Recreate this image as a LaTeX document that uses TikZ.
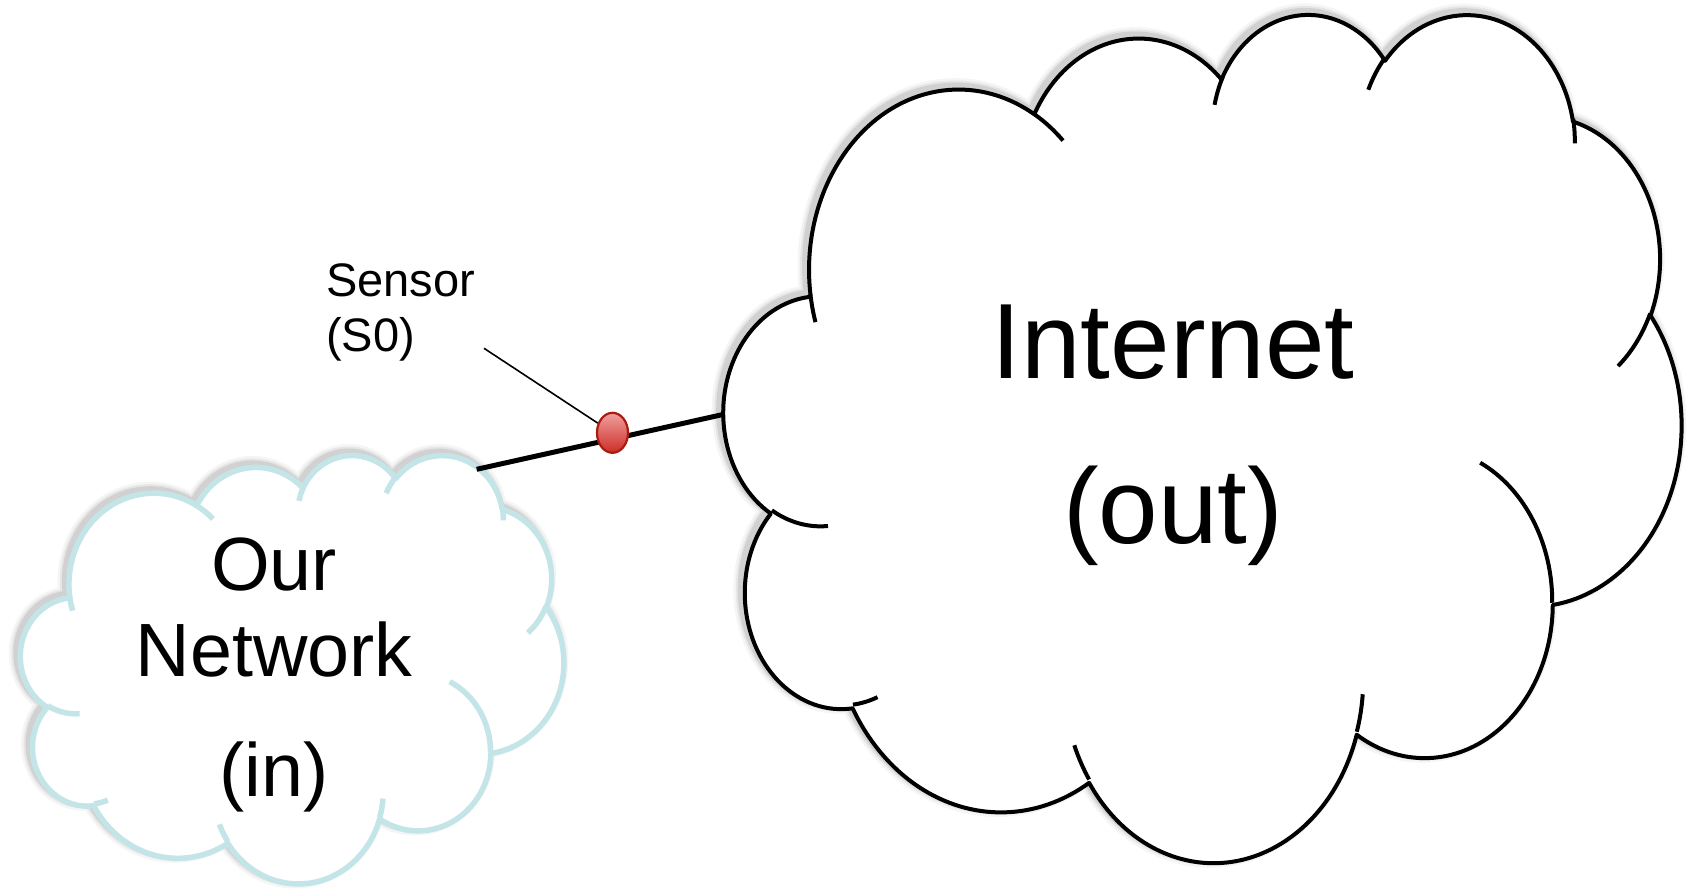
\documentclass[tikz,border=0pt]{standalone}
\usepackage{fontspec}
\setmainfont{Liberation Sans}
\usetikzlibrary{shapes.geometric}
\definecolor{netblue}{RGB}{196,229,232}
\definecolor{sensdark}{RGB}{170,28,18}
\definecolor{senstop}{RGB}{240,160,158}
\definecolor{sensbot}{RGB}{205,45,40}
\tikzset{
  ooarc/.style n args={4}{insert path={arc[x radius=#1, y radius=#2,
      start angle={atan2(sin(#3)/(#2),cos(#3)/(#1))},
      delta angle={mod(atan2(sin((#3)+(#4))/(#2),cos((#3)+(#4))/(#1))-atan2(sin(#3)/(#2),cos(#3)/(#1))+720,360)}]}},
  bigtxt/.style={inner sep=0pt, anchor=base, font=\fontsize{107}{120}\selectfont},
  midtxt/.style={inner sep=0pt, anchor=base, font=\fontsize{75.5}{90}\selectfont},
  smalltxt/.style={inner sep=0pt, anchor=base west, font=\fontsize{47}{54}\selectfont},
  link/.style={line width=5pt, black},
  pointer/.style={line width=1.6pt, black},
  sensor/.style={ellipse, draw=sensdark, line width=2.2pt, minimum width=31pt,
      minimum height=40pt, inner sep=0pt, top color=senstop, bottom color=sensbot},
}
\def\cloudouter{(3.9,14.37)
 [ooarc={6.753}{9.19}{-190.4875}{123.7805}]
 [ooarc={5.333}{7.267}{-144.1024}{89.9452}]
 [ooarc={4.365}{5.945}{-145.8079}{99.7230}]
 [ooarc={4.857}{6.595}{-130.9861}{117.2417}]
 [ooarc={5.333}{7.273}{-78.7089}{109.0269}]
 [ooarc={6.775}{9.22}{-46.2673}{130.2690}]
 [ooarc={5.785}{7.867}{0.6250}{114.0333}]
 [ooarc={6.752}{9.215}{22.4516}{115.1726}]
 [ooarc={7.72}{10.543}{66.2426}{75.7110}]
 [ooarc={4.36}{5.918}{-274.9421}{146.7356}]
 [ooarc={4.345}{5.945}{-246.8285}{152.5189}] -- cycle}
\def\cloudinner{
 (4.693,26.177) [ooarc={4.345}{5.945}{86.7420}{26.4295}]
 (6.928,34.899) [ooarc={4.36}{5.918}{73.6105}{11.4475}]
 (16.478,39.09) [ooarc={6.752}{9.215}{137.6242}{14.0811}]
 (28.827,34.751) [ooarc={6.752}{9.215}{6.4533}{15.9984}]
 (34.129,22.954) [ooarc={5.785}{7.867}{-70.2924}{70.9174}]
 (41.798,15.354) [ooarc={5.333}{7.273}{30.3180}{27.7515}]
 (38.324,5.426) [ooarc={4.857}{6.595}{-13.7443}{14.8589}]
 (29.078,3.952) [ooarc={4.857}{6.595}{-149.1815}{18.1954}]
 (22.141,4.72) [ooarc={4.365}{5.945}{-163.4943}{17.6864}]
 (14.0,5.192) [ooarc={6.753}{9.19}{-66.7070}{12.3194}]
 (4.127,15.789) [ooarc={6.753}{9.19}{157.6544}{11.8582}]}
\newcommand\netcloud[6]{%
 \begin{scope}[shift={(#1-3.5,#2-3.5)},xscale=#3,yscale=#4]
  \draw[line width=16pt,black,opacity=.04,line join=round] \cloudouter;
  \draw[line width=11pt,black,opacity=.06,line join=round] \cloudouter;
  \draw[line width=7pt,black,opacity=.09,line join=round] \cloudouter;
 \end{scope}
 \begin{scope}[shift={(#1,#2)},xscale=#3,yscale=#4]
  \filldraw[fill=white, draw=#5, line width=#6pt, line join=round] \cloudouter;
  \draw[#5, line width=#6pt] \cloudinner;
 \end{scope}}
\begin{document}
\begin{tikzpicture}[x=1pt,y=1pt,yscale=-1]
\fill[white] (0,0) rectangle (1692,891);
\useasboundingbox (0,0) rectangle (1692,891);
\netcloud{724}{12.2}{22.157}{19.627}{black}{4}
\netcloud{20.7}{454.1}{12.569}{9.914}{netblue}{5.5}
\node[bigtxt] (inet) at (1173,378) {Internet};
\node[bigtxt] (outl) at (1173,543) {(out)};
\node[midtxt] (our) at (274,590) {Our};
\node[midtxt] (netw) at (274,676.5) {Network};
\node[midtxt] (inl) at (274,796) {(in)};
\node[smalltxt] (sens) at (326,296) {Sensor};
\node[smalltxt] (sens2) at (326,351) {(S0)};
\coordinate (in) at (476.7,469.3);
\coordinate (out) at (722.5,414.6);
\coordinate (ptr) at (484,348.3);
\draw[link] (in) -- (out);
\node[sensor] (s0) at (612.5,432.8) {};
\draw[pointer] (ptr) -- (s0);
\end{tikzpicture}
\end{document}
